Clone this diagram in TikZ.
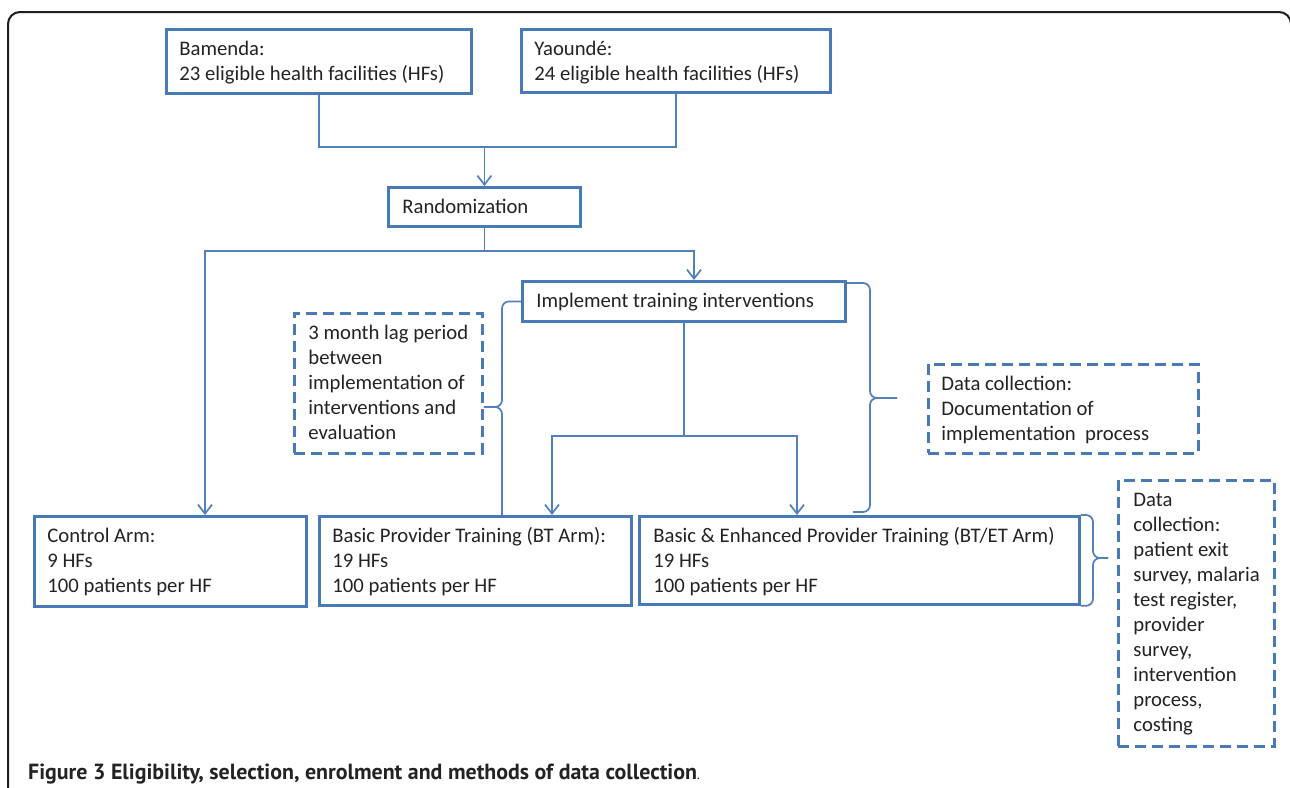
\documentclass[tikz,border=0pt]{standalone}
\usepackage{fontspec}
\setmainfont{Carlito}
\newfontfamily\capfont{PT Sans}
\usetikzlibrary{arrows.meta,calc}
\definecolor{boxblue}{RGB}{72,122,184}
\definecolor{lineblue}{RGB}{82,128,188}
\definecolor{txt}{RGB}{35,35,35}
\definecolor{framec}{RGB}{30,30,30}
\newcommand{\boxtext}[4]{\hspace*{#1}\parbox[c][#3][t]{#2}{\vspace*{8.5pt}\raggedright\noindent\strut #4}}
\tikzset{
  box/.style={draw=boxblue, line width=2.8pt, fill=white, inner sep=0pt, anchor=north west,
              font=\fontsize{20.7}{25}\selectfont, text=txt},
  dbox/.style={box, dash pattern=on 11pt off 6pt},
  conn/.style={draw=lineblue, line width=1.7pt},
  arr/.style={conn, -{Straight Barb[length=9pt,width=14pt]}},
  brace/.style={conn, rounded corners=7pt},
  framestyle/.style={draw=framec, line width=2pt, rounded corners=12pt}
}
\begin{document}
\begin{tikzpicture}[x=1pt,y=-1pt]
\useasboundingbox (0,0) rectangle (1290,787);
\fill[white] (0,0) rectangle (1290,787);
\draw[framestyle] (8,800) |- (1291,12) -- (1291,800);

% boxes
\node[box] (bam) at (165,28) {\boxtext{13pt}{292pt}{64pt}{Bamenda:\\23 eligible health facilities (HFs)}};
\node[box] (yao) at (520,28) {\boxtext{13pt}{296pt}{63pt}{Yaoundé:\\24 eligible health facilities (HFs)}};
\node[box] (rand) at (387,186) {\boxtext{14pt}{178pt}{39pt}{Randomization}};
\node[box] (impl) at (521,280) {\boxtext{14pt}{309pt}{40pt}{Implement training interventions}};
\node[dbox] (lag) at (293,312) {\boxtext{14pt}{174pt}{140pt}{3 month lag period\\between\\implementation of\\interventions and\\evaluation}};
\node[dbox] (dc1) at (927,363) {\boxtext{13pt}{257pt}{89pt}{Data collection:\\Documentation of\\implementation\ \ process}};
\node[box] (ctrl) at (33,515) {\boxtext{13pt}{259pt}{90pt}{Control Arm:\\9 HFs\\100 patients per HF}};
\node[box] (bt) at (318,515) {\boxtext{13pt}{299pt}{89pt}{Basic Provider Training (BT Arm):\\19 HFs\\100 patients per HF}};
\node[box] (btet) at (638,515) {\boxtext{14pt}{426pt}{88pt}{Basic \& Enhanced Provider Training (BT/ET Arm)\\19 HFs\\100 patients per HF}};
\node[dbox] (dc2) at (1117,479) {\boxtext{15pt}{141pt}{266pt}{Data\\collection:\\patient exit\\survey, malaria\\test register,\\provider\\survey,\\intervention\\process,\\costing}};

% connectors
\path (rand.north) ++(0,-39) coordinate (j1);
\draw[conn] (bam.south) |- (j1) -| (yao.south);
\draw[arr] (j1) -- (rand.north);
\path (rand.south) ++(0,23) coordinate (j2);
\draw[conn] (rand.south) -- (j2);
\draw[arr] (j2) -| ([xshift=172pt]ctrl.north west);
\draw[arr] (j2) -| ([xshift=173pt]impl.north west);
\path (impl.south) ++(0,113) coordinate (j3);
\draw[conn] (impl.south) -- (j3);
\draw[arr] (j3) -| ([xshift=234pt]bt.north west);
\draw[arr] (j3) -| ([xshift=159pt]btet.north west);

% braces
\coordinate (lb) at (502,407);
\coordinate (ltip) at (lag.east |- lb);
\draw[brace] (impl.west) -| (lb) -- (ltip);
\draw[brace] (ltip) -- (lb) -- (lb |- bt.north);
\coordinate (rb) at (870,398);
\coordinate (rtip) at (897,398);
\draw[brace] ([yshift=-3pt]impl.north east) -| (rb) -- (rtip);
\draw[brace] (rtip) -- (rb) |- ([xshift=215pt,yshift=3pt]btet.north west);
\coordinate (sb) at (1093,558);
\coordinate (stip) at (1108,558);
\draw[brace] (btet.north east) -| (sb) -- (stip);
\draw[brace] (stip) -- (sb) |- (btet.south east);

% caption
\node[anchor=base west, inner sep=0pt, text=txt, font=\capfont\fontsize{21.9}{24}\selectfont\bfseries] (cap) at (28,779)
  {Figure 3 Eligibility, selection, enrolment and methods of data collection{\mdseries\fontsize{14}{16}\selectfont.}};
\end{tikzpicture}
\end{document}
